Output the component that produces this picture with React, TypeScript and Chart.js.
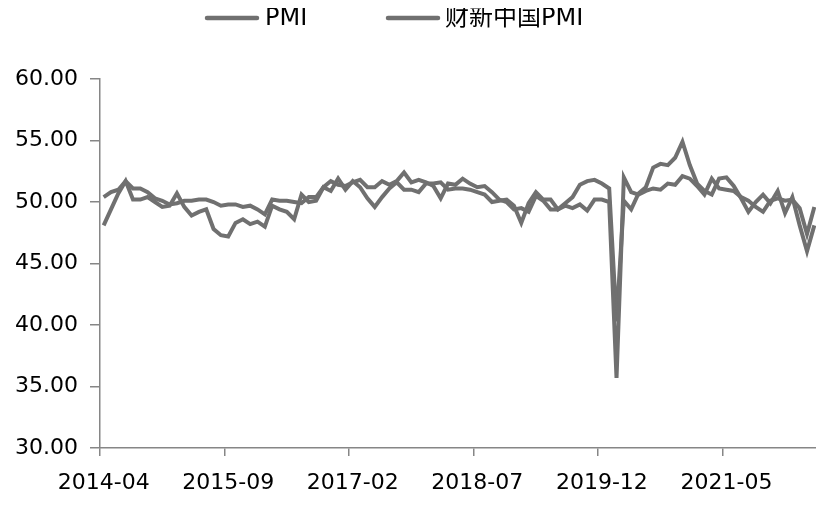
import React, { useEffect, useRef } from 'react';
import { Chart, registerables } from 'chart.js';

Chart.register(...registerables);

const months: string[] = [
  '2014-04', '2014-05', '2014-06', '2014-07', '2014-08', '2014-09', '2014-10', '2014-11', '2014-12',
  '2015-01', '2015-02', '2015-03', '2015-04', '2015-05', '2015-06', '2015-07', '2015-08', '2015-09', '2015-10', '2015-11', '2015-12',
  '2016-01', '2016-02', '2016-03', '2016-04', '2016-05', '2016-06', '2016-07', '2016-08', '2016-09', '2016-10', '2016-11', '2016-12',
  '2017-01', '2017-02', '2017-03', '2017-04', '2017-05', '2017-06', '2017-07', '2017-08', '2017-09', '2017-10', '2017-11', '2017-12',
  '2018-01', '2018-02', '2018-03', '2018-04', '2018-05', '2018-06', '2018-07', '2018-08', '2018-09', '2018-10', '2018-11', '2018-12',
  '2019-01', '2019-02', '2019-03', '2019-04', '2019-05', '2019-06', '2019-07', '2019-08', '2019-09', '2019-10', '2019-11', '2019-12',
  '2020-01', '2020-02', '2020-03', '2020-04', '2020-05', '2020-06', '2020-07', '2020-08', '2020-09', '2020-10', '2020-11', '2020-12',
  '2021-01', '2021-02', '2021-03', '2021-04', '2021-05', '2021-06', '2021-07', '2021-08', '2021-09', '2021-10', '2021-11', '2021-12',
  '2022-01', '2022-02', '2022-03', '2022-04', '2022-05',
];

const pmi: number[] = [
  50.4, 50.8, 51.0, 51.7, 51.1, 51.1, 50.8, 50.3, 50.1,
  49.8, 49.9, 50.1, 50.1, 50.2, 50.2, 50.0, 49.7, 49.8, 49.8, 49.6, 49.7,
  49.4, 49.0, 50.2, 50.1, 50.1, 50.0, 49.9, 50.4, 50.4, 51.2, 51.7, 51.4,
  51.3, 51.6, 51.8, 51.2, 51.2, 51.7, 51.4, 51.7, 52.4, 51.6, 51.8, 51.6,
  51.3, 50.3, 51.5, 51.4, 51.9, 51.5, 51.2, 51.3, 50.8, 50.2, 50.0, 49.4,
  49.5, 49.2, 50.5, 50.1, 49.4, 49.4, 49.7, 49.5, 49.8, 49.3, 50.2, 50.2,
  50.0, 35.7, 52.0, 50.8, 50.6, 50.9, 51.1, 51.0, 51.5, 51.4, 52.1, 51.9,
  51.3, 50.6, 51.9, 51.1, 51.0, 50.9, 50.4, 50.1, 49.6, 49.2, 50.1, 50.3,
  50.1, 50.2, 49.5, 47.4, 49.6,
];

const caixin: number[] = [
  48.1, 49.4, 50.7, 51.7, 50.2, 50.2, 50.4, 50.0, 49.6,
  49.7, 50.7, 49.6, 48.9, 49.2, 49.4, 47.8, 47.3, 47.2, 48.3, 48.6, 48.2,
  48.4, 48.0, 49.7, 49.4, 49.2, 48.6, 50.6, 50.0, 50.1, 51.2, 50.9, 51.9,
  51.0, 51.7, 51.2, 50.3, 49.6, 50.4, 51.1, 51.6, 51.0, 51.0, 50.8, 51.5,
  51.5, 51.6, 51.0, 51.1, 51.1, 51.0, 50.8, 50.6, 50.0, 50.1, 50.2, 49.7,
  48.3, 49.9, 50.8, 50.2, 50.2, 49.4, 49.9, 50.4, 51.4, 51.7, 51.8, 51.5,
  51.1, 40.3, 50.1, 49.4, 50.7, 51.2, 52.8, 53.1, 53.0, 53.6, 54.9, 53.0,
  51.5, 50.9, 50.6, 51.9, 52.0, 51.3, 50.3, 49.2, 50.0, 50.6, 49.9, 50.9,
  49.1, 50.4, 48.1, 46.0, 48.1,
];

const shownLabels: string[] = ['2014-04', '2015-09', '2017-02', '2018-07', '2019-12', '2021-05'];
const seriesNames: string[] = ['PMI', '财新中国PMI'];

const LINE_COLOR = '#707070';
const AXIS_COLOR = '#868686';
const TICK_FONT = { family: '"DejaVu Sans", sans-serif', size: 22 };

const topLegend = {
  id: 'topLegend',
  afterDraw(chart: any, _args: any, opts: any) {
    const ctx = chart.ctx as CanvasRenderingContext2D;
    ctx.save();
    ctx.font = '24px "DejaVu Sans", "Noto Sans CJK SC", sans-serif';
    ctx.textBaseline = 'middle';
    ctx.textAlign = 'left';
    chart.data.datasets.forEach((ds: any, i: number) => {
      const it = opts.items[i];
      ctx.strokeStyle = ds.borderColor;
      ctx.lineWidth = 4.5;
      ctx.lineCap = 'round';
      ctx.beginPath();
      ctx.moveTo(it.lineX, opts.y);
      ctx.lineTo(it.lineX + opts.lineLen, opts.y);
      ctx.stroke();
      ctx.fillStyle = '#000';
      ctx.fillText(ds.label, it.textX, opts.y + 1);
    });
    ctx.restore();
  },
};

export default function App() {
  const ref = useRef<HTMLCanvasElement | null>(null);

  useEffect(() => {
    if (!ref.current) return;
    const chart = new Chart(ref.current, {
      type: 'line',
      data: {
        labels: months,
        datasets: [
          {
            label: seriesNames[0],
            data: pmi,
            borderColor: LINE_COLOR,
            backgroundColor: LINE_COLOR,
            borderWidth: 4,
            pointRadius: 0,
            tension: 0,
          },
          {
            label: seriesNames[1],
            data: caixin,
            borderColor: LINE_COLOR,
            backgroundColor: LINE_COLOR,
            borderWidth: 4,
            pointRadius: 0,
            tension: 0,
          },
        ],
      },
      options: {
        animation: false,
        responsive: true,
        maintainAspectRatio: false,
        layout: { padding: { top: 71, right: 6, left: 0, bottom: 0 } },
        plugins: {
          legend: { display: false },
          tooltip: { enabled: false },
          topLegend: {
            y: 10,
            lineLen: 50,
            items: [
              { lineX: 199, textX: 257 },
              { lineX: 380, textX: 437 },
            ],
          },
        } as any,
        scales: {
          x: {
            type: 'category',
            offset: true,
            afterFit: (s: any) => {
              s.height = 58;
              s.paddingLeft = 0;
              s.paddingRight = 0;
            },
            grid: {
              display: true,
              offset: true,
              drawOnChartArea: false,
              drawTicks: true,
              tickLength: 8,
              lineWidth: 1.5,
              color: (c: any) =>
                c.index % 17 === 0 && c.index < months.length ? AXIS_COLOR : 'rgba(0,0,0,0)',
            },
            border: { display: true, color: AXIS_COLOR, width: 1.5 },
            ticks: {
              autoSkip: false,
              maxRotation: 0,
              minRotation: 0,
              padding: 14,
              color: '#000',
              font: TICK_FONT,
              callback: (_v: any, i: number) => (shownLabels.includes(months[i]) ? months[i] : ''),
            },
          },
          y: {
            min: 30,
            max: 60,
            afterFit: (s: any) => {
              s.width = 92;
            },
            grid: {
              display: true,
              drawOnChartArea: false,
              drawTicks: true,
              tickLength: 10,
              lineWidth: 1.5,
              color: AXIS_COLOR,
            },
            border: { display: true, color: AXIS_COLOR, width: 1.5 },
            ticks: {
              stepSize: 5,
              padding: 12,
              color: '#000',
              font: TICK_FONT,
              callback: (v: any) => Number(v).toFixed(2),
            },
          },
        },
      },
      plugins: [topLegend],
    });
    return () => chart.destroy();
  }, []);

  return (
    <div style={{ width: 816, height: 498, position: 'relative' }}>
      <canvas ref={ref} />
    </div>
  );
}
